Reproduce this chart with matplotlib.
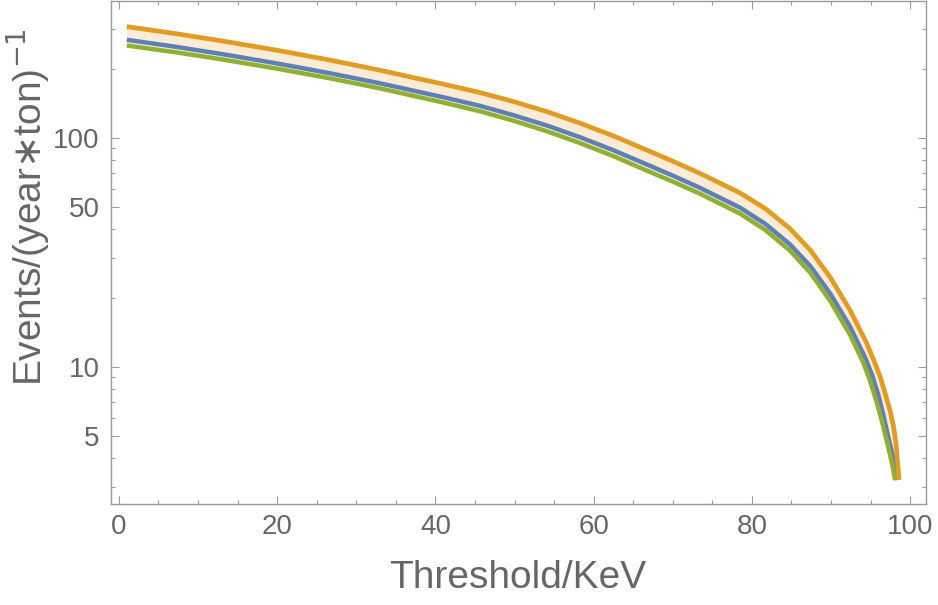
import matplotlib
matplotlib.use('Agg')
import matplotlib.pyplot as plt
import numpy as np
from matplotlib.ticker import FixedLocator, NullFormatter

plt.rcParams['font.family'] = ['Liberation Sans', 'DejaVu Sans']

# Curves (threshold in keV, events per year*ton)
orange_x = [1.0, 7.0, 13.0, 20.0, 26.7, 33.0, 41.4, 45.6, 49.8, 54.0, 58.3, 62.5, 66.7, 70.0,
            73.4, 78.5, 81.7, 84.8, 87.4, 89.9, 92.4, 94.5, 95.4, 96.2, 96.8, 97.5, 97.9,
            98.2, 98.6]
orange_y = [306, 285.8, 265.2, 241.2, 218.5, 197.4, 170.4, 157.8, 144.3, 130.5, 115.9, 102.0,
            88.5, 79.1, 70.1, 57.5, 49.1, 40.2, 32.3, 24.6, 17.7, 12.7, 10.7, 9.07, 7.75,
            6.35, 5.49, 4.66, 3.21]

blue_x = [1.0, 7.0, 13.0, 20.0, 26.7, 33.0, 41.4, 45.6, 49.8, 54.0, 58.3, 62.5, 66.7, 70.0,
          73.4, 78.5, 81.7, 84.8, 87.4, 89.9, 92.4, 94.3, 95.2, 96.0, 96.6, 97.2, 97.8, 98.3]
blue_y = [268, 250.4, 232.3, 211.3, 191.4, 173.1, 149.4, 138.1, 125.8, 113.5, 100.6, 88.3,
          76.6, 68.4, 60.6, 49.6, 42.1, 34.3, 27.5, 20.9, 15.0, 11.0, 9.2, 7.5, 6.2, 5.0,
          4.1, 3.2]

green_x = [1.0, 7.0, 13.0, 20.0, 26.7, 33.0, 41.4, 45.6, 49.8, 54.0, 58.3, 62.5, 66.7, 70.0,
           73.4, 78.5, 81.7, 84.8, 87.4, 89.9, 92.4, 94.1, 94.9, 95.8, 96.4, 97.1, 97.7, 98.1]
green_y = [253, 236.9, 220.1, 200.4, 181.8, 164.4, 141.6, 130.7, 119.0, 107.1, 94.8, 83.2,
           72.0, 64.4, 57.1, 46.7, 39.6, 32.2, 25.7, 19.4, 13.8, 10.4, 8.75, 6.96, 5.85,
           4.66, 3.80, 3.21]

y_major = [5, 10, 50, 100]
y_minor = [3, 4, 6, 7, 8, 9, 20, 30, 40, 60, 70, 80, 90, 200, 300]
x_major = [0, 20, 40, 60, 80, 100]

gray_text = '#666666'
gray_axis = '#9a9a9a'

fig = plt.figure(figsize=(9.38, 6.05), dpi=100)
ax = fig.add_axes([0.1183, 0.1669, 0.8689, 0.8315])

# band between upper and lower curve
ax.fill(np.concatenate([orange_x, green_x[::-1]]),
        np.concatenate([orange_y, green_y[::-1]]),
        color='#fcebd6', lw=0, zorder=1)

ax.plot(blue_x, blue_y, color='#5e81b5', lw=3.2, solid_capstyle='butt', zorder=3)
ax.plot(green_x, green_y, color='#8fb032', lw=3.2, solid_capstyle='butt', zorder=3)
ax.plot(orange_x, orange_y, color='#e19c24', lw=3.4, solid_capstyle='butt', zorder=4)

ax.set_yscale('log')
ax.set_xlim(-1.0, 102.0)
ax.set_ylim(2.52, 396)

ax.xaxis.set_major_locator(FixedLocator(x_major))
ax.xaxis.set_minor_locator(FixedLocator(np.arange(5, 100, 5)))
ax.yaxis.set_major_locator(FixedLocator(y_major))
ax.yaxis.set_minor_locator(FixedLocator(y_minor))
ax.yaxis.set_minor_formatter(NullFormatter())
ax.set_yticklabels([str(v) for v in y_major])

for s in ax.spines.values():
    s.set_color(gray_axis)
    s.set_linewidth(1.0)

ax.tick_params(which='both', direction='in', top=True, right=True,
               color=gray_axis, width=0.8, labelcolor=gray_text, labelsize=20)
ax.tick_params(which='major', length=6)
ax.tick_params(which='minor', length=3.2)
ax.tick_params(axis='x', pad=7)
ax.tick_params(axis='y', pad=8)

ax.set_xlabel('Threshold/KeV', fontsize=28, color=gray_text)
ax.set_ylabel('Events/(year$\\ast$ton)$^{-1}$', fontsize=28, color=gray_text)
ax.xaxis.set_label_coords(0.499, -0.147)
ax.yaxis.set_label_coords(-0.102, 0.59)
ax.xaxis.label.set_va('center')
ax.yaxis.label.set_va('center')

fig.savefig('out.png', dpi=100)
